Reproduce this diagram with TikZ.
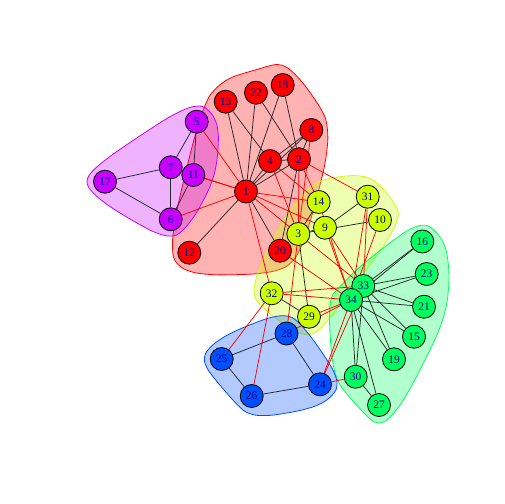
\documentclass[tikz,border=0pt]{standalone}
\usepackage{fontspec}
\setmainfont{Liberation Serif}
\usetikzlibrary{calc}
\definecolor{cR}{HTML}{FF0000}
\definecolor{cY}{HTML}{CCFF00}
\definecolor{cG}{HTML}{00FF5E}
\definecolor{cB}{HTML}{0050FF}
\definecolor{cP}{HTML}{C800FF}
\definecolor{lblue}{HTML}{00008B}
\pgfdeclarelayer{hull}
\pgfdeclarelayer{edge}
\pgfsetlayers{hull,edge,main}
\def\hr{23}
\newcommand\hU[2]{\coordinate (p#1) at ($(n#2)+(0,-\hr)$);}
\newcommand\hD[2]{\coordinate (p#1) at ($(n#2)+(0,\hr)$);}
\newcommand\hL[2]{\coordinate (p#1) at ($(n#2)+(-\hr,0)$);}
\newcommand\hR[2]{\coordinate (p#1) at ($(n#2)+(\hr,0)$);}
\newcommand\xhull[2]{%
  \foreach \i in {1,...,#1}{%
    \pgfmathtruncatemacro\ia{mod(\i+#1-2,#1)+1}%
    \pgfmathtruncatemacro\ib{mod(\i,#1)+1}%
    \pgfmathtruncatemacro\ic{mod(\i+1,#1)+1}%
    \coordinate (qa\i) at ($0.1068*(p\ia)+0.7864*(p\i)+0.1068*(p\ib)$);
    \coordinate (qb\i) at ($0.0165*(p\ia)+0.7011*(p\i)+0.2824*(p\ib)$);
    \coordinate (qc\i) at ($(p\i)!0.5!(p\ib)$);
    \coordinate (qd\i) at ($0.2824*(p\i)+0.7011*(p\ib)+0.0165*(p\ic)$);
  }%
  \gdef\hulllist{}%
  \foreach \i in {1,...,#1}{\xdef\hulllist{\hulllist (qa\i) (qb\i) (qc\i) (qd\i)}}%
  \edef\tmp{\noexpand\draw[hullstyle,fill=#2,draw=#2] plot[smooth cycle] coordinates {\hulllist};}\tmp
}
\begin{document}
\begin{tikzpicture}[x=1bp,y=-1bp,
  v/.style={circle,draw=black,line width=0.8bp,minimum size=23bp,inner sep=0pt,
    text=lblue,font=\fontsize{11.5}{11.5}\selectfont},
  ein/.style={draw=black!85,line width=0.75bp},
  ex/.style={draw=red,line width=0.75bp},
  hullstyle/.style={fill opacity=0.3,line width=0.8bp}]
\useasboundingbox (0,0) rectangle (504,504);
\node[v,fill=cR] (n1) at (246,191.5) {1};
\node[v,fill=cR] (n2) at (299,159.3) {2};
\node[v,fill=cY] (n3) at (298.3,234) {3};
\node[v,fill=cR] (n4) at (270,161) {4};
\node[v,fill=cP] (n5) at (196.7,121.7) {5};
\node[v,fill=cP] (n6) at (170.7,219.3) {6};
\node[v,fill=cP] (n7) at (170.7,167.3) {7};
\node[v,fill=cR] (n8) at (311.3,130) {8};
\node[v,fill=cY] (n9) at (325,227.7) {9};
\node[v,fill=cY] (n10) at (380,220) {10};
\node[v,fill=cP] (n11) at (193.3,175) {11};
\node[v,fill=cR] (n12) at (189.3,252.7) {12};
\node[v,fill=cR] (n13) at (225.7,101.7) {13};
\node[v,fill=cY] (n14) at (318.7,202) {14};
\node[v,fill=cG] (n15) at (414,336.7) {15};
\node[v,fill=cG] (n16) at (422.3,241.5) {16};
\node[v,fill=cP] (n17) at (105,181.7) {17};
\node[v,fill=cR] (n18) at (282.7,85) {18};
\node[v,fill=cG] (n19) at (394,359.3) {19};
\node[v,fill=cR] (n20) at (280,250.7) {20};
\node[v,fill=cG] (n21) at (424,306.7) {21};
\node[v,fill=cR] (n22) at (256,92.7) {22};
\node[v,fill=cG] (n23) at (426.7,274) {23};
\node[v,fill=cB] (n24) at (320,384.3) {24};
\node[v,fill=cB] (n25) at (221.7,359) {25};
\node[v,fill=cB] (n26) at (251.7,396) {26};
\node[v,fill=cG] (n27) at (379,405) {27};
\node[v,fill=cB] (n28) at (286.5,333.5) {28};
\node[v,fill=cY] (n29) at (309,316.7) {29};
\node[v,fill=cG] (n30) at (355.7,376.7) {30};
\node[v,fill=cY] (n31) at (367.7,196.7) {31};
\node[v,fill=cY] (n32) at (271.7,293.3) {32};
\node[v,fill=cG] (n33) at (363.3,286) {33};
\node[v,fill=cG] (n34) at (351,300) {34};
\begin{pgfonlayer}{hull}
\fill[white] (0,0) rectangle (504,504);
% red
\hU{1}{18}\hR{2}{18}\hR{3}{8}\hR{4}{20}\hD{5}{20}\hD{6}{12}\hL{7}{12}\hL{8}{13}\hU{9}{13}\hU{10}{22}
\xhull{10}{cR}
% yellow
\hU{1}{31}\hR{2}{31}\hR{3}{10}\hR{4}{29}\hD{5}{29}\hD{6}{32}\hL{7}{32}\hL{8}{3}\hL{9}{14}\hU{10}{14}
\xhull{10}{cY}
% green
\hU{1}{16}\hR{2}{16}\hR{3}{23}\hR{4}{21}\hR{5}{15}\hR{6}{27}\hD{7}{27}\hL{8}{27}\hL{9}{30}\hL{10}{34}\hL{11}{33}\hU{12}{33}
\xhull{12}{cG}
% blue
\hU{1}{28}\hR{2}{28}\hR{3}{24}\hD{4}{24}\hD{5}{26}\hL{6}{26}\hL{7}{25}\hU{8}{25}
\xhull{8}{cB}
% purple
\hU{1}{5}\hR{2}{5}\hR{3}{11}\hR{4}{6}\hD{5}{6}\hD{6}{17}\hL{7}{17}\hU{8}{17}
\xhull{8}{cP}
\end{pgfonlayer}
\begin{pgfonlayer}{edge}
\draw[ein] (n1) -- (n2);
\draw[ex] (n1) -- (n3);
\draw[ein] (n1) -- (n4);
\draw[ex] (n1) -- (n5);
\draw[ex] (n1) -- (n6);
\draw[ex] (n1) -- (n7);
\draw[ein] (n1) -- (n8);
\draw[ex] (n1) -- (n9);
\draw[ex] (n1) -- (n11);
\draw[ein] (n1) -- (n12);
\draw[ein] (n1) -- (n13);
\draw[ex] (n1) -- (n14);
\draw[ein] (n1) -- (n18);
\draw[ein] (n1) -- (n20);
\draw[ein] (n1) -- (n22);
\draw[ex] (n1) -- (n32);
\draw[ex] (n2) -- (n3);
\draw[ein] (n2) -- (n4);
\draw[ein] (n2) -- (n8);
\draw[ex] (n2) -- (n14);
\draw[ein] (n2) -- (n18);
\draw[ein] (n2) -- (n20);
\draw[ein] (n2) -- (n22);
\draw[ex] (n2) -- (n31);
\draw[ex] (n3) -- (n4);
\draw[ex] (n3) -- (n8);
\draw[ein] (n3) -- (n9);
\draw[ein] (n3) -- (n10);
\draw[ein] (n3) -- (n14);
\draw[ex] (n3) -- (n28);
\draw[ein] (n3) -- (n29);
\draw[ex] (n3) -- (n33);
\draw[ein] (n4) -- (n8);
\draw[ein] (n4) -- (n13);
\draw[ex] (n4) -- (n14);
\draw[ein] (n5) -- (n7);
\draw[ein] (n5) -- (n11);
\draw[ein] (n6) -- (n7);
\draw[ein] (n6) -- (n11);
\draw[ein] (n6) -- (n17);
\draw[ein] (n7) -- (n17);
\draw[ein] (n9) -- (n31);
\draw[ex] (n9) -- (n33);
\draw[ex] (n9) -- (n34);
\draw[ex] (n10) -- (n34);
\draw[ex] (n14) -- (n34);
\draw[ein] (n15) -- (n33);
\draw[ein] (n15) -- (n34);
\draw[ein] (n16) -- (n33);
\draw[ein] (n16) -- (n34);
\draw[ein] (n19) -- (n33);
\draw[ein] (n19) -- (n34);
\draw[ex] (n20) -- (n34);
\draw[ein] (n21) -- (n33);
\draw[ein] (n21) -- (n34);
\draw[ein] (n23) -- (n33);
\draw[ein] (n23) -- (n34);
\draw[ein] (n24) -- (n26);
\draw[ein] (n24) -- (n28);
\draw[ex] (n24) -- (n30);
\draw[ex] (n24) -- (n33);
\draw[ex] (n24) -- (n34);
\draw[ein] (n25) -- (n26);
\draw[ein] (n25) -- (n28);
\draw[ex] (n25) -- (n32);
\draw[ex] (n26) -- (n32);
\draw[ein] (n27) -- (n30);
\draw[ein] (n27) -- (n34);
\draw[ex] (n28) -- (n34);
\draw[ein] (n29) -- (n32);
\draw[ex] (n29) -- (n34);
\draw[ein] (n30) -- (n33);
\draw[ein] (n30) -- (n34);
\draw[ex] (n31) -- (n33);
\draw[ex] (n31) -- (n34);
\draw[ex] (n32) -- (n33);
\draw[ex] (n32) -- (n34);
\draw[ein] (n33) -- (n34);
\end{pgfonlayer}
\end{tikzpicture}
\end{document}
